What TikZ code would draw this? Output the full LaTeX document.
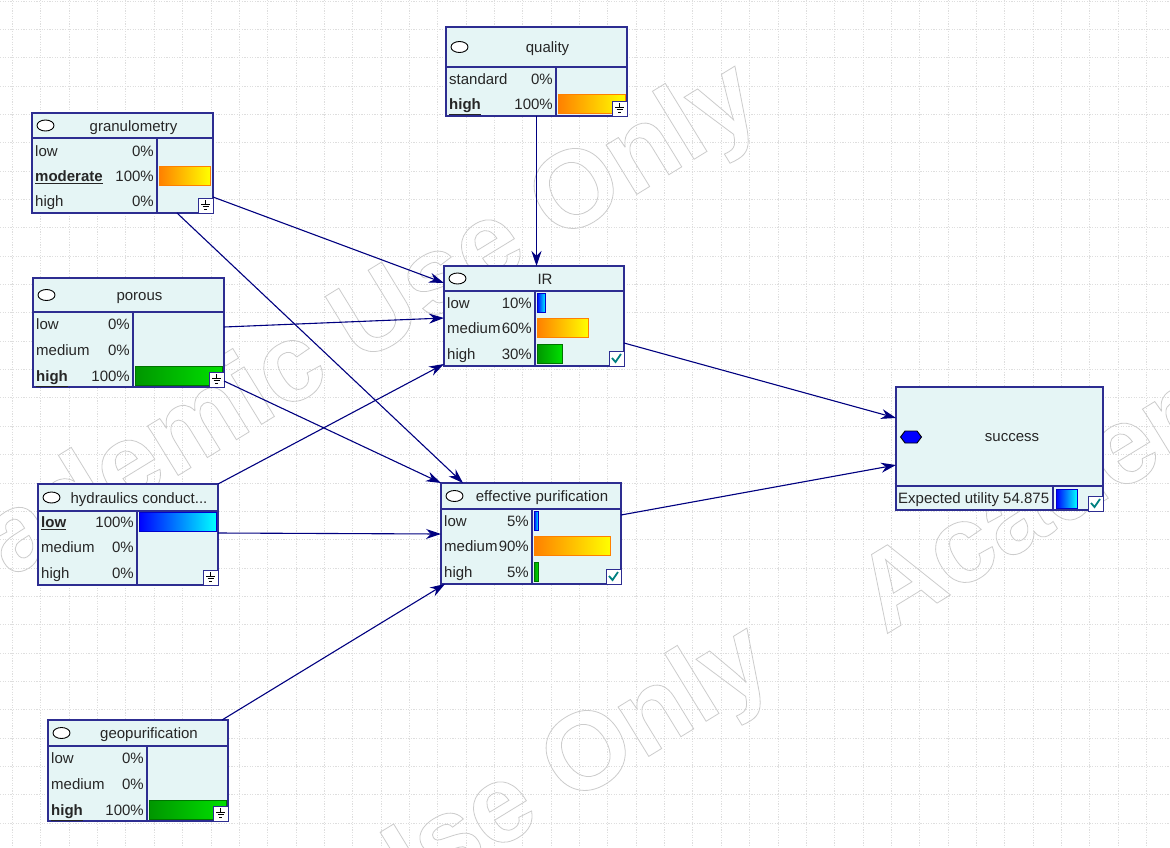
\documentclass[tikz,border=0pt]{standalone}
\usepackage{fontspec}
\setmainfont{Liberation Sans}
\usetikzlibrary{arrows.meta}
\definecolor{boxfill}{RGB}{229,245,245}
\definecolor{boxline}{RGB}{45,45,145}
\definecolor{linkblue}{RGB}{0,0,128}
\definecolor{barorange}{RGB}{255,128,0}
\definecolor{bargreen}{RGB}{0,150,0}
\definecolor{barlime}{RGB}{0,225,0}
\definecolor{checkteal}{RGB}{0,128,128}
\tikzset{
  netbox/.style={draw=boxline, fill=boxfill, line width=1.2pt, inner sep=0pt, outer sep=0pt},
  netline/.style={draw=boxline, line width=1.2pt},
  stateicon/.style={draw=black, fill=white, line width=0.9pt},
  iconbox/.style={draw=boxline, fill=white, line width=1pt},
  link/.style={draw=linkblue, line width=1.1pt, -{Stealth[length=15pt,width=10pt]}},
  rowtext/.style={inner sep=0pt, text=black!85, font=\fontsize{15}{17}\selectfont},
  titletext/.style={rowtext},
  orangebar/.style={draw=orange, left color=barorange, right color=yellow},
  greenbar/.style={draw=green!45!black, left color=bargreen, right color=barlime},
  bluebar/.style={draw=blue!80!black, left color=blue, right color=cyan},
  gridline/.style={draw=black!13, line width=0.9pt, dash pattern=on 1.2pt off 1.4pt},
  watermark/.style={anchor=base west, rotate=31.5, inner sep=0pt, text=black!20,
    font=\fontsize{110}{110}\selectfont\bfseries}
}
\newcommand{\evid}[1]{\textbf{\underline{#1}}}
\newcommand{\outlined}[1]{\special{pdf:literal direct 1 Tr 0.8 w}#1\special{pdf:literal direct 0 Tr}}
% name, x0, y0, x1, y1, title bottom, column x, title
\newcommand{\netnode}[8]{%
  \node[netbox, minimum width={#4-#2}, minimum height={#5-#3}] (#1) at ({(#2+#4)/2},{(#3+#5)/2}) {};
  \draw[netline] (#2,#6) -- (#4,#6) (#7,#6) -- (#7,#5);
  \draw[stateicon] ({#2+13.5},{(#3+#6)/2}) ellipse [x radius=8.5, y radius=5.5];
  \node[titletext, anchor=base] (#1-title) at ({(#2+22+#4)/2},{(#3+#6)/2+5.5}) {#8};
}
% name, x0, column x, y, label, percent
\newcommand{\staterow}[6]{%
  \node[rowtext, anchor=base west] (#1) at ({#2+3},{#4+5.5}) {#5};
  \node[rowtext, anchor=base east] (#1-pct) at ({#3-3},{#4+5.5}) {#6};
}
\newcommand{\statebar}[4]{%
  \draw[#4] ({#1+2},{#2-9.5}) rectangle ++(#3,19);
}
\newcommand{\groundicon}[2]{%
  \draw[iconbox] ({#1-15},{#2-15}) rectangle (#1,#2);
  \draw[black, line width=0.8pt] ({#1-7.5},{#2-13}) -- ({#1-7.5},{#2-9})
    ({#1-12},{#2-9}) -- ({#1-3},{#2-9})
    ({#1-10.5},{#2-6.5}) -- ({#1-4.5},{#2-6.5})
    ({#1-9},{#2-4}) -- ({#1-6},{#2-4});
}
\newcommand{\checkicon}[2]{%
  \draw[iconbox] ({#1-15},{#2-15}) rectangle (#1,#2);
  \draw[checkteal, line width=1.8pt] ({#1-12},{#2-8}) -- ({#1-8.5},{#2-4}) -- ({#1-3},{#2-12});
}
\begin{document}
\begin{tikzpicture}[x=1pt, y=-1pt]
\useasboundingbox (0,0) rectangle (1170,847);
\fill[white] (0,0) rectangle (1170,847);
\foreach \gx in {0,...,40}
  \draw[gridline] (12.5+\gx*28.35,0) -- (12.5+\gx*28.35,847);
\foreach \gy in {0,...,29}
  \draw[gridline] (0,1+\gy*28.35) -- (1170,1+\gy*28.35);
\begin{scope}
\clip (0,0) rectangle (1170,847);
\foreach \wx/\wy/\wn in {-110/652/a, -98/1214/b, 885/635/c}
  \node[watermark] (mark-\wn) at (\wx,\wy) {\outlined{Academic Use Only}};
\end{scope}

\netnode{gran}{32}{113}{213}{213}{138}{157}{granulometry}
\staterow{gran-low}{32}{157}{151}{low}{0\%}
\staterow{gran-mod}{32}{157}{176}{\evid{moderate}}{100\%}
\staterow{gran-high}{32}{157}{201}{high}{0\%}
\statebar{157}{176}{51}{orangebar}
\groundicon{213}{213}

\netnode{qual}{446}{27}{627}{116}{67}{556}{quality}
\staterow{qual-std}{446}{556}{79}{standard}{0\%}
\staterow{qual-high}{446}{556}{104}{\evid{high}}{100\%}
\statebar{556}{104}{67}{orangebar}
\groundicon{627}{116}

\netnode{por}{33}{278}{224}{387}{312}{133}{porous}
\staterow{por-low}{33}{133}{324}{low}{0\%}
\staterow{por-med}{33}{133}{350}{medium}{0\%}
\staterow{por-high}{33}{133}{376}{\evid{high}}{100\%}
\statebar{133}{376}{87}{greenbar}
\groundicon{224}{387}

\netnode{ir}{444}{266}{624}{366}{291}{535}{IR}
\staterow{ir-low}{444}{535}{303}{low}{10\%}
\staterow{ir-med}{444}{535}{328}{medium}{60\%}
\staterow{ir-high}{444}{535}{354}{high}{30\%}
\statebar{535}{303}{8.5}{bluebar}
\statebar{535}{328}{51}{orangebar}
\statebar{535}{354}{25.5}{greenbar}
\checkicon{624}{366}

\netnode{hyd}{38}{484}{218}{585}{511}{137}{hydraulics conduct...}
\staterow{hyd-low}{38}{137}{522}{\evid{low}}{100\%}
\staterow{hyd-med}{38}{137}{547}{medium}{0\%}
\staterow{hyd-high}{38}{137}{573}{high}{0\%}
\statebar{137}{522}{77}{bluebar}
\groundicon{218}{585}

\netnode{eff}{441}{483}{621}{584}{509}{532}{effective purification}
\staterow{eff-low}{441}{532}{521}{low}{5\%}
\staterow{eff-med}{441}{532}{546}{medium}{90\%}
\staterow{eff-high}{441}{532}{572}{high}{5\%}
\statebar{532}{521}{4.25}{bluebar}
\statebar{532}{546}{76.5}{orangebar}
\statebar{532}{572}{4.25}{greenbar}
\checkicon{621}{584}

\netnode{geo}{48}{720}{228}{821}{746}{147}{geopurification}
\staterow{geo-low}{48}{147}{758}{low}{0\%}
\staterow{geo-med}{48}{147}{784}{medium}{0\%}
\staterow{geo-high}{48}{147}{810}{\evid{high}}{100\%}
\statebar{147}{810}{77}{greenbar}
\groundicon{228}{821}

\node[netbox, minimum width=207, minimum height=123] (succ) at (999.5,448.5) {};
\draw[netline] (896,486) -- (1103,486) (1053,486) -- (1053,510);
\draw[draw=black, fill=blue, line width=0.9pt] (900.5,437) -- (905,431) -- (917,431)
  -- (921.5,437) -- (917,443) -- (905,443) -- cycle;
\node[titletext, anchor=base] (succ-title) at (1012,441.5) {success};
\node[rowtext, anchor=base west] (succ-eu) at (898,503.5) {Expected utility 54.875};
\draw[bluebar] (1056,489) rectangle (1077,508);
\checkicon{1103}{511}

\draw[link] ([yshift=16pt]gran.south east) -- ([yshift=-17pt]ir.north west);
\draw[link] ([xshift=-36pt]gran.south east) -- ([xshift=22pt]eff.north west);
\draw[link] (qual.south) -- (qual.south |- ir.north);
\draw[link] ([yshift=-49pt]por.north east) -- ([yshift=-52pt]ir.north west);
\draw[link] ([yshift=6pt]por.south east) -- (eff.north west);
\draw[link] (hyd.north east) -- ([yshift=2pt]ir.south west);
\draw[link] ([yshift=-49pt]hyd.north east) -- ([yshift=-51pt]eff.north west);
\draw[link] ([xshift=-6pt]geo.north east) -- ([xshift=4pt]eff.south west);
\draw[link] ([yshift=23pt]ir.south east) -- ([yshift=-31pt]succ.north west);
\draw[link] ([yshift=-32pt]eff.north east) -- ([yshift=-78pt]succ.north west);
\end{tikzpicture}
\end{document}
